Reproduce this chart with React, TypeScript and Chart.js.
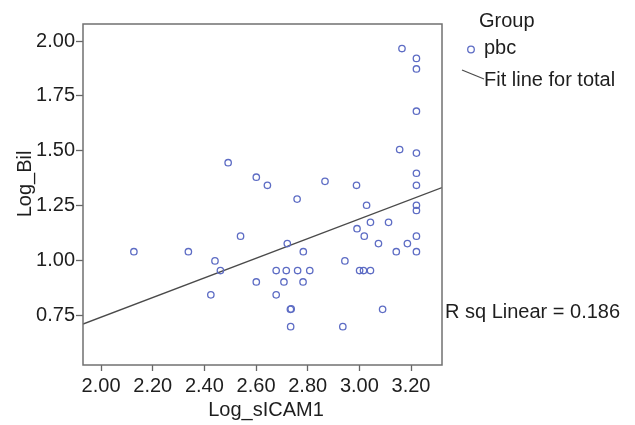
import React, { useEffect, useRef } from "react";
import { Chart, registerables } from "chart.js";

Chart.register(...registerables);

const xValues = [
  3.165, 3.221, 3.221, 3.221, 3.156, 3.221, 2.492, 3.221, 2.601, 2.644, 2.867, 2.989, 3.221, 2.759,
  3.028, 3.221, 3.221, 3.043, 3.113, 2.991, 3.019, 3.221, 2.540, 2.721, 3.074, 3.186,
  2.127, 2.338, 2.783, 3.143, 3.221, 2.441, 2.944, 2.462, 2.678, 2.717, 2.761, 2.808,
  3.001, 3.016, 3.043, 2.601, 2.708, 2.782, 2.425, 2.678, 2.733, 2.736, 3.090, 2.734, 2.936,
];
const yValues = [
  1.966, 1.921, 1.873, 1.680, 1.505, 1.489, 1.445, 1.397, 1.379, 1.342, 1.360, 1.342, 1.342, 1.279,
  1.251, 1.251, 1.227, 1.173, 1.173, 1.144, 1.110, 1.110, 1.110, 1.076, 1.076, 1.076,
  1.039, 1.039, 1.039, 1.039, 1.039, 0.997, 0.997, 0.953, 0.953, 0.953, 0.953, 0.953,
  0.953, 0.953, 0.953, 0.901, 0.901, 0.901, 0.842, 0.842, 0.776, 0.778, 0.776, 0.697, 0.697,
];
const fitX = [1.93, 3.32];
const fitY = [0.709, 1.332];
const xTicks = [2.0, 2.2, 2.4, 2.6, 2.8, 3.0, 3.2];
const yTicks = [0.75, 1.0, 1.25, 1.5, 1.75, 2.0];
const xTitle = "Log_sICAM1";
const yTitle = "Log_Bil";
const legendTitle = "Group";
const seriesName = "pbc";
const fitName = "Fit line for total";
const rsqText = "R sq Linear = 0.186";

const FONT = "'Liberation Sans', Arial, Helvetica, sans-serif";
const POINT_COLOR = "#5d6cc4";
const LINE_COLOR = "#4a4a4a";
const TEXT_COLOR = "#1e1e1e";

export default function App() {
  const ref = useRef<HTMLCanvasElement | null>(null);

  useEffect(() => {
    if (!ref.current) return;
    const overlay = {
      id: "overlay",
      afterDraw(chart: any) {
        const ctx = chart.ctx;
        const a = chart.chartArea;
        ctx.save();
        // frame
        ctx.strokeStyle = "#707070";
        ctx.lineWidth = 1.5;
        ctx.strokeRect(a.left, a.top, a.right - a.left, a.bottom - a.top);
        ctx.fillStyle = TEXT_COLOR;
        ctx.textBaseline = "middle";
        // axis titles
        ctx.font = `20px ${FONT}`;
        ctx.textAlign = "center";
        ctx.fillText(xTitle, 266, 410);
        ctx.save();
        ctx.translate(25, 184);
        ctx.rotate(-Math.PI / 2);
        ctx.fillText(yTitle, 0, 0);
        ctx.restore();
        // legend
        ctx.textAlign = "left";
        ctx.font = `20px ${FONT}`;
        ctx.fillText(legendTitle, 479, 21);
        ctx.beginPath();
        ctx.strokeStyle = POINT_COLOR;
        ctx.lineWidth = 1.3;
        ctx.arc(471, 49.5, 3.3, 0, Math.PI * 2);
        ctx.stroke();
        ctx.fillText(seriesName, 484, 48);
        ctx.beginPath();
        ctx.strokeStyle = LINE_COLOR;
        ctx.lineWidth = 1.2;
        ctx.moveTo(462, 70);
        ctx.lineTo(484, 79);
        ctx.stroke();
        ctx.fillText(fitName, 484, 80);
        ctx.fillText(rsqText, 445, 312);
        ctx.restore();
      },
    };

    const chart = new Chart(ref.current, {
      type: "scatter",
      data: {
        datasets: [
          {
            label: seriesName,
            data: xValues.map((x, i) => ({ x, y: yValues[i] })),
            pointStyle: "circle",
            pointRadius: 3.2,
            pointBorderWidth: 1.3,
            borderColor: POINT_COLOR,
            backgroundColor: "rgba(0,0,0,0)",
            pointHoverRadius: 3.2,
          },
          {
            type: "line",
            label: fitName,
            data: fitX.map((x, i) => ({ x, y: fitY[i] })),
            borderColor: LINE_COLOR,
            borderWidth: 1.3,
            pointRadius: 0,
            fill: false,
          } as any,
        ],
      },
      plugins: [overlay],
      options: {
        animation: false,
        responsive: false,
        maintainAspectRatio: false,
        layout: { padding: { top: 24, right: 193, left: 0, bottom: 0 } },
        plugins: {
          legend: { display: false },
          tooltip: { enabled: false },
        },
        scales: {
          x: {
            type: "linear",
            min: 1.93,
            max: 3.32,
            afterFit: (s: any) => {
              s.height = 60;
            },
            afterBuildTicks: (s: any) => {
              s.ticks = xTicks.map((v) => ({ value: v }));
            },
            grid: {
              drawOnChartArea: false,
              drawTicks: true,
              tickLength: 6,
              tickWidth: 1.3,
              tickColor: "#666",
            },
            border: { display: false },
            ticks: {
              padding: 3,
              color: TEXT_COLOR,
              font: { family: FONT, size: 20 },
              maxRotation: 0,
              autoSkip: false,
              callback: (v: any) => Number(v).toFixed(2),
            },
            title: { display: false },
          },
          y: {
            type: "linear",
            min: 0.522,
            max: 2.078,
            afterFit: (s: any) => {
              s.width = 83;
            },
            afterBuildTicks: (s: any) => {
              s.ticks = yTicks.map((v) => ({ value: v }));
            },
            grid: {
              drawOnChartArea: false,
              drawTicks: true,
              tickLength: 7,
              tickWidth: 1.3,
              tickColor: "#666",
            },
            border: { display: false },
            ticks: {
              padding: 1,
              color: TEXT_COLOR,
              font: { family: FONT, size: 20 },
              autoSkip: false,
              callback: (v: any) => Number(v).toFixed(2),
            },
            title: { display: false },
          },
        },
      },
    });
    return () => chart.destroy();
  }, []);

  return (
    <div style={{ position: "absolute", left: 0, top: 0, width: 635, height: 425, background: "#fff" }}>
      <canvas ref={ref} width={635} height={425} style={{ width: 635, height: 425 }} />
    </div>
  );
}
